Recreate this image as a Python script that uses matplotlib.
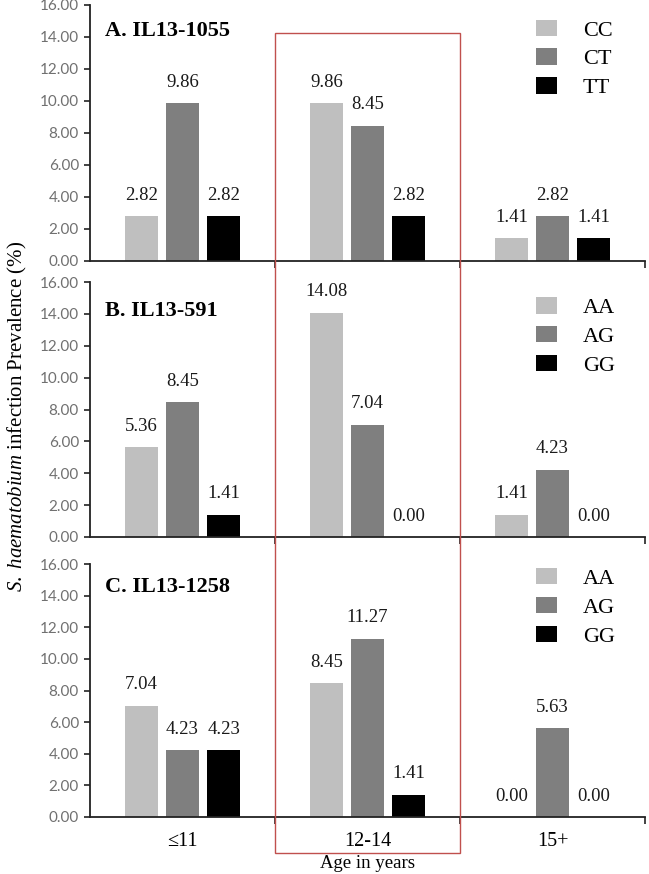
import matplotlib
matplotlib.use("Agg")
import matplotlib.pyplot as plt
import matplotlib.transforms as mtransforms
from matplotlib.patches import Rectangle
import numpy as np

# ---------------- data ----------------
age_groups = ["\u226411", "12-14", "15+"]

panel_titles = ["A. IL13-1055", "B. IL13-591", "C. IL13-1258"]

genotypes_A = ["CC", "CT", "TT"]
genotypes_B = ["AA", "AG", "GG"]
genotypes_C = ["AA", "AG", "GG"]

# values per genotype across age groups
vals_A = {"CC": [2.82, 9.86, 1.41], "CT": [9.86, 8.45, 2.82], "TT": [2.82, 2.82, 1.41]}
vals_B = {"AA": [5.63, 14.08, 1.41], "AG": [8.45, 7.04, 4.23], "GG": [1.41, 0.00, 0.00]}
vals_C = {"AA": [7.04, 8.45, 0.00], "AG": [4.23, 11.27, 5.63], "GG": [4.23, 1.41, 0.00]}

# printed labels (as shown in the original figure)
labels_A = {"CC": ["2.82", "9.86", "1.41"], "CT": ["9.86", "8.45", "2.82"], "TT": ["2.82", "2.82", "1.41"]}
labels_B = {"AA": ["5.36", "14.08", "1.41"], "AG": ["8.45", "7.04", "4.23"], "GG": ["1.41", "0.00", "0.00"]}
labels_C = {"AA": ["7.04", "8.45", "0.00"], "AG": ["4.23", "11.27", "5.63"], "GG": ["4.23", "1.41", "0.00"]}

colors = ["#bfbfbf", "#7f7f7f", "#000000"]

# ---------------- style ----------------
plt.rcParams["font.family"] = ["Liberation Serif", "DejaVu Serif"]
plt.rcParams["mathtext.fontset"] = "custom"
plt.rcParams["mathtext.it"] = "Liberation Serif:italic"
plt.rcParams["mathtext.rm"] = "Liberation Serif"

W, H = 649, 874
fig = plt.figure(figsize=(W / 100, H / 100), dpi=100)

left = 90 / W
width = 555 / W
panel_px = [(5, 261), (282, 537), (564, 817)]

panels = [
    (panel_titles[0], genotypes_A, vals_A, labels_A),
    (panel_titles[1], genotypes_B, vals_B, labels_B),
    (panel_titles[2], genotypes_C, vals_C, labels_C),
]

x = np.arange(len(age_groups))
bw = 0.175
offsets = [-0.222, 0.0, 0.222]
title_y = [0.90, 0.885, 0.91]
legend_top = [1.004, 1.002, 1.046]

axes = []
for i, ((top, bot), (title, gts, vals, labs)) in enumerate(zip(panel_px, panels)):
    ax = fig.add_axes([left, 1 - bot / H, width, (bot - top) / H])
    axes.append(ax)
    for j, g in enumerate(gts):
        ax.bar(x + offsets[j], vals[g], width=bw, color=colors[j], label=g, zorder=2)
        for xi, v, t in zip(x + offsets[j], vals[g], labs[g]):
            ax.annotate(t, (xi, v), xytext=(0, 15), textcoords="offset points",
                        ha="center", va="center", fontsize=13.5, color="#1a1a1a")
    ax.set_xlim(-0.5, 2.5)
    ax.set_ylim(0, 16)
    ax.set_yticks(np.arange(0, 16.1, 2))
    ax.set_yticklabels([f"{v:.2f}" for v in np.arange(0, 16.1, 2)],
                       fontfamily="Lato", fontsize=11, color="#707070")
    ax.tick_params(axis="y", length=4, width=1.2, pad=4, color="#222222")
    ax.set_xticks([0.5, 1.5, 2.5], minor=True)
    ax.set_xticks(x)
    ax.tick_params(axis="x", which="major", length=0, pad=11)
    ax.tick_params(axis="x", which="minor", length=5, width=1.2, color="#222222")
    if i < 2:
        ax.set_xticklabels([])
    else:
        ax.set_xticklabels(age_groups, fontsize=14.5)
    for s in ["top", "right"]:
        ax.spines[s].set_visible(False)
    for s in ["left", "bottom"]:
        ax.spines[s].set_linewidth(1.3)
        ax.spines[s].set_color("#222222")
    ax.text(0.027, title_y[i], title, transform=ax.transAxes, fontsize=16,
            fontweight="bold", ha="left", va="center")
    ax.legend(loc="upper left", bbox_to_anchor=(0.776, legend_top[i]), frameon=False,
              fontsize=16, handlelength=0.95, handleheight=0.77,
              handletextpad=1.15, labelspacing=0.35, borderpad=0.2)

axes[2].set_xlabel("Age in years", fontsize=13.5, labelpad=3)

fig.text(17 / W, 1 - 416 / H, r"$\mathit{S.\ haematobium}$ infection Prevalence (%)",
         rotation=90, ha="center", va="center", fontsize=15)

# red highlight frame around the 12-14 group
trans = mtransforms.blended_transform_factory(axes[0].transData, fig.transFigure)
y0 = 1 - 853 / H
y1 = 1 - 33 / H
rect = Rectangle((0.5, y0), 1.0, y1 - y0, transform=trans, fill=False,
                 edgecolor="#c0504d", linewidth=1.0, clip_on=False, zorder=10)
fig.add_artist(rect)

fig.savefig("out.png", dpi=100)
